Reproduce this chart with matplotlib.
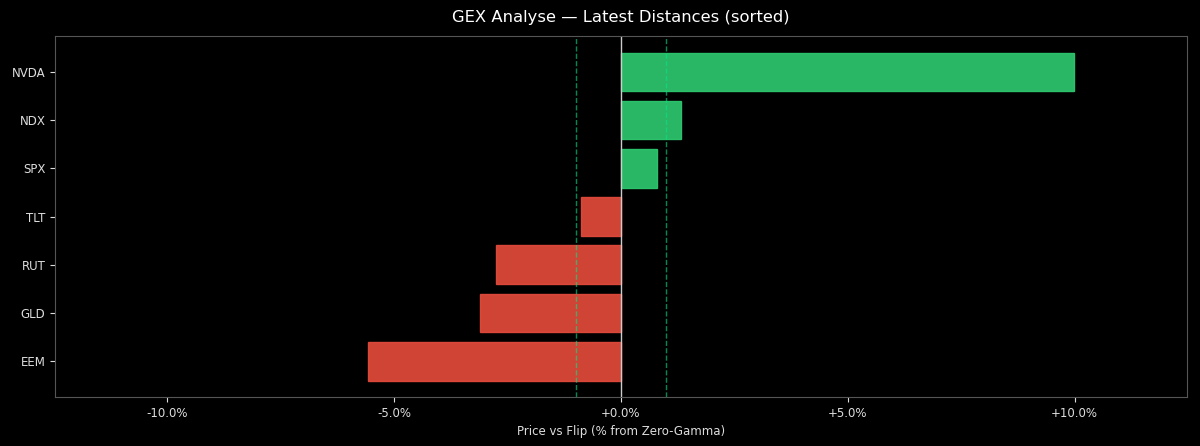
import matplotlib
matplotlib.use("Agg")
import matplotlib.pyplot as plt
from matplotlib.ticker import FuncFormatter

# Latest distances, sorted (bottom to top)
tickers = ["EEM", "GLD", "RUT", "TLT", "SPX", "NDX", "NVDA"]
distances = [-5.57, -3.10, -2.75, -0.88, 0.79, 1.32, 9.98]
band = 1.0  # +/- band shown as dashed lines

colors = ["#2ecc71" if d > 0 else "#e74c3c" for d in distances]

fig, ax = plt.subplots(figsize=(12, 4.46), dpi=100)
fig.patch.set_facecolor("black")
ax.set_facecolor("black")

ax.barh(tickers, distances, color=colors, alpha=0.9, edgecolor=colors, linewidth=1)
ax.axvline(0, color="#cccccc", linewidth=1)
ax.axvline(-band, color="#00e68a", linestyle="--", linewidth=1, alpha=0.6)
ax.axvline(band, color="#00e68a", linestyle="--", linewidth=1, alpha=0.6)

lim = max(abs(d) for d in distances) * 1.25
ax.set_xlim(-lim, lim)

ax.xaxis.set_major_formatter(FuncFormatter(lambda v, p: f"{v:+.1f}%"))
ax.set_xlabel("Price vs Flip (% from Zero-Gamma)", color="#dddddd", fontsize=8.5)
ax.set_title("GEX Analyse \u2014 Latest Distances (sorted)", color="white", fontsize=11.8, pad=10)

ax.tick_params(colors="#dddddd", labelsize=8.5)
for s in ax.spines.values():
    s.set_color("#555555")

plt.subplots_adjust(left=0.046, right=0.989, top=0.919, bottom=0.11)
plt.savefig("out.png", facecolor=fig.get_facecolor())
